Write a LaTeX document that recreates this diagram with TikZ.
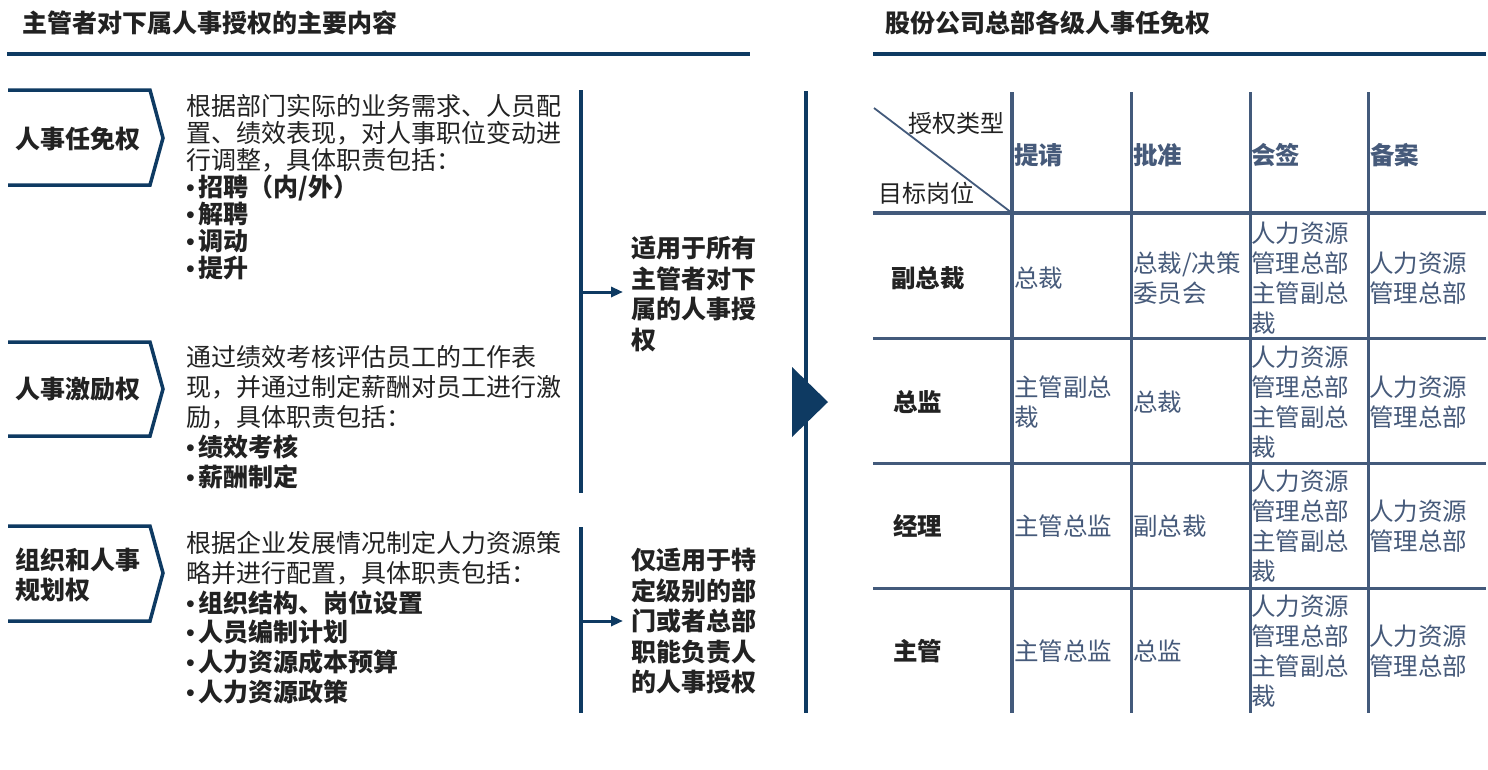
\documentclass[tikz,border=0pt]{standalone}
\usepackage{fontspec}
\setmainfont{Noto Sans CJK SC}
\newfontfamily\bulfont{Liberation Sans}
\usetikzlibrary{arrows.meta}
\definecolor{navy}{HTML}{0E3A62}
\definecolor{dark}{HTML}{222222}
\definecolor{tline}{HTML}{435A7B}
\definecolor{tcol}{HTML}{465A7A}
\newcommand{\zs}{\rule[-0.12em]{0pt}{1em}}
\newcommand{\bu}{{\bulfont\mdseries •}\kern4pt}
\begin{document}
\begin{tikzpicture}[x=1pt,y=-1pt,
  ttl/.style={anchor=west,inner sep=0pt,font=\fontsize{25}{30}\selectfont\bfseries,text=dark},
  hrule/.style={draw=navy,line width=4pt},
  chev/.style={draw=navy,line width=3.5pt},
  lab/.style={inner sep=0pt,font=\fontsize{25}{30}\selectfont\bfseries,text=dark,align=left},
  desc/.style={anchor=west,inner sep=0pt,align=left,text=dark},
  vline/.style={draw=navy,line width=3.5pt},
  conn/.style={draw=navy,line width=3pt,-{Triangle[length=12pt,width=10pt]}},
  side/.style={anchor=west,inner sep=0pt,align=left,text=dark,font=\fontsize{25}{30.5}\selectfont\bfseries},
  tl/.style={draw=tline,line width=3pt},
  cell/.style={anchor=west,inner sep=0pt,align=left,text=tcol,font=\fontsize{24.5}{30}\selectfont},
  hcell/.style={anchor=west,inner sep=0pt,text=tcol,font=\fontsize{24.5}{30}\selectfont\bfseries},
  rowlab/.style={anchor=west,inner sep=0pt,text=dark,font=\fontsize{24.5}{30}\selectfont\bfseries},
  diag/.style={anchor=west,inner sep=0pt,text=dark,font=\fontsize{24}{30}\selectfont}
]
\useasboundingbox (0,0) rectangle (1488,769);
\fill[white] (0,0) rectangle (1488,769);

% titles
\node[ttl] (t1) at (22,23) {主管者对下属人事授权的主要内容};
\node[ttl] (t2) at (885,23) {股份公司总部各级人事任免权};
\draw[hrule] (7,54) -- (750,54);
\draw[hrule] (873,54) -- (1486,54);

% chevrons
\draw[chev] (8,90) -- (150,90) -- (163,138) -- (150,185) -- (8,185);
\draw[chev] (8,342) -- (150,342) -- (163,389) -- (150,436) -- (8,436);
\draw[chev] (8,526) -- (150,526) -- (163,573) -- (150,621) -- (8,621);
\node[lab,anchor=west] (c1) at (15,139) {\zs 人事任免权};
\node[lab,anchor=west] (c2) at (15,389) {\zs 人事激励权};
\node[lab,anchor=west] (c3) at (15,575) {\zs 组织和人事\\\zs 规划权};

% descriptions
\node[desc,font=\fontsize{25}{27}\selectfont] (d1) at (186,187) {%
\zs 根据部门实际的业务需求、人员配\\
\zs 置、绩效表现，对人事职位变动进\\
\zs 行调整，具体职责包括：\\
\zs \bu\textbf{招聘（内/外）}\\
\zs \bu\textbf{解聘}\\
\zs \bu\textbf{调动}\\
\zs \bu\textbf{提升}};
\node[desc,font=\fontsize{25}{30}\selectfont] (d2) at (186,417) {%
\zs 通过绩效考核评估员工的工作表\\
\zs 现，并通过制定薪酬对员工进行激\\
\zs 励，具体职责包括：\\
\zs \bu\textbf{绩效考核}\\
\zs \bu\textbf{薪酬制定}};
\node[desc,font=\fontsize{25}{29.8}\selectfont] (d3) at (186,617.5) {%
\zs 根据企业发展情况制定人力资源策\\
\zs 略并进行配置，具体职责包括：\\
\zs \bu\textbf{组织结构、岗位设置}\\
\zs \bu\textbf{人员编制计划}\\
\zs \bu\textbf{人力资源成本预算}\\
\zs \bu\textbf{人力资源政策}};

% vertical lines and arrows
\draw[vline] (581,90) -- (581,493);
\draw[vline] (581,527) -- (581,713);
\node[side] (sA) at (631,294) {\zs 适用于所有\\\zs 主管者对下\\\zs 属的人事授\\\zs 权};
\node[side] (sB) at (631,621) {\zs 仅适用于特\\\zs 定级别的部\\\zs 门或者总部\\\zs 职能负责人\\\zs 的人事授权};
\coordinate (a1) at (582,292);
\coordinate (a2) at (582,621);
\draw[conn] (a1) -- ([xshift=-8pt]sA.west |- a1);
\draw[conn] (a2) -- ([xshift=-8pt]sB.west |- a2);

% big divider
\draw[navy,line width=4pt] (806,91) -- (806,713);
\fill[navy] (792,367) -- (828,402) -- (792,437) -- cycle;

% table lines
\foreach \x in {1131,1250,1368} \draw[tl] (\x,92) -- (\x,713);
\draw[tl,line width=4.5pt] (1012,92) -- (1012,713);
\draw[tl,line width=4pt] (873,213) -- (1486,213);
\foreach \y in {338,463,588} \draw[tl] (873,\y) -- (1486,\y);
\draw[tl,line width=1.8pt] (874,108) -- (1012,213);

% header
\node[diag] (hA) at (908,123) {\zs 授权类型};
\node[diag] (hB) at (878,193) {\zs 目标岗位};
\node[hcell] (h1) at (1014,155) {\zs 提请};
\node[hcell] (h2) at (1133,155) {\zs 批准};
\node[hcell] (h3) at (1251,155) {\zs 会签};
\node[hcell] (h4) at (1370,155) {\zs 备案};

% row labels
\node[rowlab] (r1) at (891,278) {\zs 副总裁};
\node[rowlab] (r2) at (893,402) {\zs 总监};
\node[rowlab] (r3) at (893,526) {\zs 经理};
\node[rowlab] (r4) at (893,651) {\zs 主管};

% cells row 1
\node[cell] (c11) at (1014,278) {\zs 总裁};
\node[cell] (c12) at (1133,278) {\zs 总裁/决策\\\zs 委员会};
\node[cell] (c13) at (1251,278) {\zs 人力资源\\\zs 管理总部\\\zs 主管副总\\\zs 裁};
\node[cell] (c14) at (1369,278) {\zs 人力资源\\\zs 管理总部};
% row 2
\node[cell] (c21) at (1014,402) {\zs 主管副总\\\zs 裁};
\node[cell] (c22) at (1133,402) {\zs 总裁};
\node[cell] (c23) at (1251,402) {\zs 人力资源\\\zs 管理总部\\\zs 主管副总\\\zs 裁};
\node[cell] (c24) at (1369,402) {\zs 人力资源\\\zs 管理总部};
% row 3
\node[cell] (c31) at (1014,526) {\zs 主管总监};
\node[cell] (c32) at (1133,526) {\zs 副总裁};
\node[cell] (c33) at (1251,526) {\zs 人力资源\\\zs 管理总部\\\zs 主管副总\\\zs 裁};
\node[cell] (c34) at (1369,526) {\zs 人力资源\\\zs 管理总部};
% row 4
\node[cell] (c41) at (1014,651) {\zs 主管总监};
\node[cell] (c42) at (1133,651) {\zs 总监};
\node[cell] (c43) at (1251,651) {\zs 人力资源\\\zs 管理总部\\\zs 主管副总\\\zs 裁};
\node[cell] (c44) at (1369,651) {\zs 人力资源\\\zs 管理总部};
\end{tikzpicture}
\end{document}
